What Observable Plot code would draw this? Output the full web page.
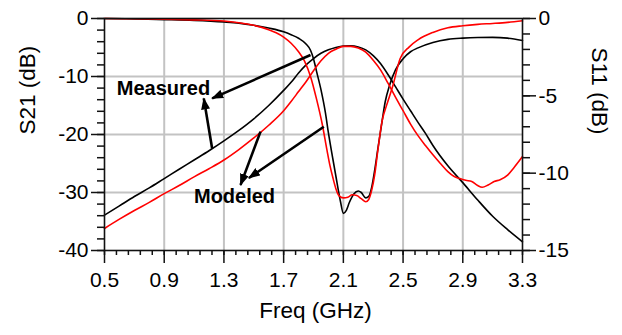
<!DOCTYPE html>
<html><head><meta charset="utf-8">
<script src="https://cdn.jsdelivr.net/npm/d3@7"></script>
<script src="https://cdn.jsdelivr.net/npm/@observablehq/plot@0.6"></script>
<style>body{margin:0;background:#fff}</style>
</head><body><div id="chart"></div>
<script>
// ---- data ----
const s21MeasFreq = [0.5,0.6,0.7,0.8,0.9,1.0,1.1,1.2,1.3,1.4,1.5,1.6,1.7,1.75,1.8,1.85,1.9,1.95,2.0,2.05,2.1,2.15,2.2,2.25,2.3,2.35,2.4,2.45,2.5,2.55,2.6,2.65,2.7,2.8,2.9,3.0,3.1,3.2,3.3];
const s21MeasDb   = [-33.9,-32.3,-30.7,-29.2,-27.6,-26.0,-24.4,-22.8,-21.1,-19.3,-17.3,-15.0,-12.4,-11.0,-9.4,-8.0,-6.9,-6.0,-5.4,-5.0,-4.75,-4.7,-4.9,-5.4,-6.4,-7.8,-9.7,-11.8,-13.9,-15.9,-17.9,-19.8,-21.9,-25.4,-28.3,-31.3,-34.1,-36.4,-38.5];

const s21ModFreq = [0.5,0.6,0.7,0.8,0.9,1.0,1.1,1.2,1.3,1.4,1.5,1.6,1.7,1.75,1.8,1.85,1.9,1.95,2.0,2.05,2.1,2.15,2.2,2.25,2.3,2.35,2.4,2.45,2.5,2.55,2.6,2.65,2.7,2.75,2.8,2.84,2.88,2.92,2.96,3.0,3.03,3.07,3.11,3.15,3.2,3.24,3.3];
const s21ModDb   = [-36.2,-34.6,-33.1,-31.7,-30.2,-28.8,-27.3,-25.9,-24.4,-22.6,-20.6,-18.4,-15.9,-14.3,-12.6,-10.9,-9.0,-7.3,-6.0,-5.3,-4.8,-4.8,-5.1,-5.8,-7.2,-8.9,-11.2,-13.6,-15.9,-18.2,-20.2,-21.9,-23.5,-25.0,-26.4,-27.2,-27.6,-27.9,-28.1,-28.8,-29.1,-28.7,-28.1,-27.8,-27.0,-25.8,-23.8];

const s11MeasFreq = [0.5,0.7,0.9,1.1,1.3,1.4,1.5,1.6,1.7,1.75,1.8,1.85,1.88,1.9,1.92,1.95,1.98,2.0,2.03,2.05,2.08,2.1,2.12,2.14,2.17,2.2,2.22,2.25,2.27,2.29,2.31,2.33,2.36,2.38,2.41,2.45,2.5,2.55,2.6,2.7,2.8,2.9,3.0,3.1,3.2,3.3];
const s11MeasDb   = [0,-0.03,-0.07,-0.12,-0.22,-0.3,-0.44,-0.62,-0.86,-1.05,-1.28,-1.65,-2.05,-2.6,-3.4,-4.6,-6.1,-7.4,-9.1,-10.2,-11.8,-12.6,-12.4,-11.9,-11.35,-11.15,-11.25,-11.6,-11.5,-10.9,-9.8,-8.5,-6.6,-5.4,-4.3,-3.3,-2.6,-2.15,-1.9,-1.55,-1.35,-1.27,-1.23,-1.22,-1.27,-1.42];

const s11ModFreq = [0.5,0.7,0.9,1.1,1.3,1.4,1.5,1.6,1.65,1.7,1.75,1.8,1.84,1.88,1.92,1.96,1.99,2.01,2.03,2.05,2.07,2.1,2.13,2.16,2.19,2.22,2.25,2.27,2.29,2.31,2.33,2.36,2.39,2.43,2.48,2.54,2.6,2.7,2.8,2.9,3.0,3.1,3.2,3.3];
const s11ModDb   = [0,-0.02,-0.05,-0.09,-0.16,-0.27,-0.44,-0.72,-0.92,-1.2,-1.6,-2.15,-2.75,-3.75,-5.2,-6.9,-8.5,-9.5,-10.3,-11.0,-11.45,-11.6,-11.55,-11.4,-11.45,-11.65,-11.85,-11.7,-11.1,-10.1,-8.6,-6.6,-5.6,-4.4,-2.6,-1.85,-1.38,-0.9,-0.6,-0.47,-0.38,-0.32,-0.25,-0.15];

const xTicks   = [0.5,0.9,1.3,1.7,2.1,2.5,2.9,3.3];
const xGrid    = [0.9,1.3,1.7,2.1,2.5,2.9];
const xMinor   = d3.range(0.5, 3.31, 0.08);
const s21Ticks = [0,-10,-20,-30,-40];
const s21Grid  = [-10,-20,-30];
const s21Minor = d3.range(0, -40.1, -2);
const s11Ticks = [0,-5,-10,-15];
const s11Minor = d3.range(0, -15.1, -1);

// annotations, in (GHz, S21 dB) units
const labelText = ["Measured","Modeled"];
const labelFreq = [0.895, 1.371];
const labelDb   = [-12.0, -30.7];
const arrowFromFreq = [1.88, 1.221, 1.545, 1.969];
const arrowFromDb   = [-6.3, -22.4, -19.5, -18.66];
const arrowToFreq   = [1.221, 1.165, 1.411, 1.467];
const arrowToDb     = [-13.77, -13.77, -28.7, -27.5];

// ---- build ----
const k = 40/15; // S11 (0..-15) drawn on S21 (0..-40) scale
const zip = (fs, vs) => fs.map((f,i)=>({f, v: vs[i]}));
const s21Meas = zip(s21MeasFreq, s21MeasDb);
const s21Mod  = zip(s21ModFreq, s21ModDb);
const s11Meas = zip(s11MeasFreq, s11MeasDb);
const s11Mod  = zip(s11ModFreq, s11ModDb);
const labels = labelText.map((t,i)=>({t, f: labelFreq[i], v: labelDb[i]}));
const arrows = arrowFromFreq.map((f,i)=>({f1: f, v1: arrowFromDb[i], f2: arrowToFreq[i], v2: arrowToDb[i]}));

const font = "'Liberation Sans', Arial, Helvetica, sans-serif";
const plot = Plot.plot({
  width: 622, height: 335,
  marginLeft: 104, marginRight: 100, marginTop: 18, marginBottom: 85,
  x: {domain: [0.5, 3.3]},
  y: {domain: [-40, 0]},
  style: {fontFamily: font, fontSize: "21px", color: "black", background: "white", overflow: "visible"},
  marks: [
    Plot.gridX(xGrid, {stroke: "#c3c3c3", strokeOpacity: 1, strokeWidth: 2}),
    Plot.gridY(s21Grid, {stroke: "#c3c3c3", strokeOpacity: 1, strokeWidth: 2}),
    Plot.line(s21Meas, {x: "f", y: "v", stroke: "black", strokeWidth: 1.6, curve: "monotone-x"}),
    Plot.line(s11Meas, {x: "f", y: d => d.v * k, stroke: "black", strokeWidth: 1.6, curve: "monotone-x"}),
    Plot.line(s21Mod, {x: "f", y: "v", stroke: "#ff0000", strokeWidth: 1.6, curve: "monotone-x"}),
    Plot.line(s11Mod, {x: "f", y: d => d.v * k, stroke: "#ff0000", strokeWidth: 1.6, curve: "monotone-x"}),
    Plot.frame({stroke: "#111", strokeWidth: 1.6}),
    Plot.axisY(s21Ticks, {anchor: "left", tickSize: 13, tickPadding: 3, tickFormat: d => String(d), label: null, strokeWidth: 1.5, stroke: "#111"}),
    Plot.axisY(s21Minor, {anchor: "left", tickSize: 7, tickFormat: () => "", label: null, strokeWidth: 1.5, stroke: "#111"}),
    Plot.axisY(s11Ticks.map(v => v * k), {anchor: "right", tickSize: 13, tickPadding: 3, tickFormat: d => String(Math.round(d / k)), label: null, strokeWidth: 1.5, stroke: "#111"}),
    Plot.axisY(s11Minor.map(v => v * k), {anchor: "right", tickSize: 7, tickFormat: () => "", label: null, strokeWidth: 1.5, stroke: "#111"}),
    Plot.axisX(xTicks, {anchor: "bottom", tickSize: 13, tickPadding: 9, tickFormat: d => d.toFixed(1), label: null, strokeWidth: 1.5, stroke: "#111"}),
    Plot.axisX(xMinor, {anchor: "bottom", tickSize: 5, tickFormat: () => "", label: null, strokeWidth: 1.5, stroke: "#111"}),
    Plot.text(["S21 (dB)"], {frameAnchor: "left", dx: -77, rotate: -90, fontSize: 22.5}),
    Plot.text(["S11 (dB)"], {frameAnchor: "right", dx: 77, rotate: 90, fontSize: 22.5}),
    Plot.text(["Freq (GHz)"], {frameAnchor: "bottom", dx: 2, dy: 67, fontSize: 22.5}),
    Plot.link(arrows, {x1: "f1", y1: "v1", x2: "f2", y2: "v2", stroke: "black", strokeWidth: 2.6}),
    Plot.text(labels, {x: "f", y: "v", text: "t", fontWeight: "bold", fontSize: 20})
  ]
});

// filled arrow heads on the annotation links
const ns = "http://www.w3.org/2000/svg";
const defs = document.createElementNS(ns, "defs");
const marker = document.createElementNS(ns, "marker");
marker.setAttribute("id", "ahead");
marker.setAttribute("viewBox", "0 0 12 9");
marker.setAttribute("refX", "11");
marker.setAttribute("refY", "4.5");
marker.setAttribute("markerWidth", "12");
marker.setAttribute("markerHeight", "9");
marker.setAttribute("markerUnits", "userSpaceOnUse");
marker.setAttribute("orient", "auto");
const mp = document.createElementNS(ns, "path");
mp.setAttribute("d", "M0,0L12,4.5L0,9Z");
mp.setAttribute("fill", "black");
marker.appendChild(mp);
defs.appendChild(marker);
plot.insertBefore(defs, plot.firstChild);
plot.querySelectorAll('g[aria-label="link"] path, g[aria-label="link"] line').forEach(el => el.setAttribute("marker-end", "url(#ahead)"));

document.getElementById("chart").appendChild(plot);
</script></body></html>
